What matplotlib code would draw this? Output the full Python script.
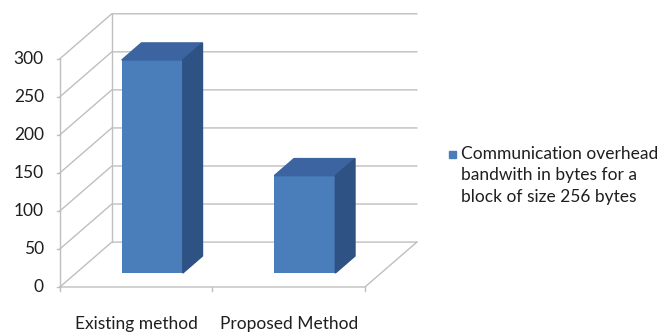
"""Excel-style 3D column chart: communication overhead, existing vs proposed."""

import matplotlib

matplotlib.use("Agg")
import matplotlib.pyplot as plt  # noqa: E402
from matplotlib.patches import Rectangle  # noqa: E402

categories = ["Existing method", "Proposed Method"]
values = [280, 128]
y_ticks = [0, 50, 100, 150, 200, 250, 300]
series_label = "Communication overhead\nbandwith in bytes for a\nblock of size 256 bytes"

FRONT = "#4A7EBB"
TOP = "#3B64A0"
SIDE = "#2F5284"
GRID = "#BFBFBF"
TEXT = "#1F1F1F"

# oblique depth of the plot box, in data units (x in categories, y in values)
DX, DY = 0.34, 59.0
BAR_W = 0.4
Z0, Z1 = 0.31, 0.69  # bar front/back as fraction of full depth

plt.rcParams["font.family"] = ["Lato", "DejaVu Sans"]

fig = plt.figure(figsize=(6.72, 3.36), dpi=100)
ax = fig.add_axes([0, 0, 1, 1])
ax.set_xlim(-0.893, 3.513)
ax.set_ylim(-64.4, 377.1)
ax.axis("off")

x0, x1 = -0.5, len(categories) - 0.5
ymax = y_ticks[-1]

# back wall + left wall gridlines
for v in y_ticks:
    ax.plot([x0, x0 + DX, x1 + DX], [v, v + DY, v + DY], color=GRID, lw=1, zorder=1)
ax.plot([x0 + DX, x0 + DX], [DY, ymax + DY], color=GRID, lw=1, zorder=1)
# floor outline
ax.plot([x0, x1, x1 + DX], [0, 0, DY], color=GRID, lw=1, zorder=1)

# y axis with ticks
ax.plot([x0, x0], [0, ymax], color=GRID, lw=1, zorder=2)
for v in y_ticks:
    ax.plot([x0 - 0.02, x0], [v, v], color=GRID, lw=1, zorder=2)
    ax.text(x0 - 0.105, v, str(v), ha="right", va="center", fontsize=12.5, color=TEXT)

# x ticks between categories
for i in range(len(categories) + 1):
    ax.plot([x0 + i, x0 + i], [0, -5], color=GRID, lw=1, zorder=2)
for i, name in enumerate(categories):
    ax.text(i, -49, name, ha="center", va="center", fontsize=12.5, color=TEXT)

# bars: front face via ax.bar, top and side faces from the same values
fx, fy = Z0 * DX, Z0 * DY
bx, by = Z1 * DX, Z1 * DY
xs = [i + fx for i in range(len(categories))]
ax.bar(xs, values, width=BAR_W, bottom=fy, color=FRONT, zorder=4)
for i, v in enumerate(values):
    left, right = i + fx - BAR_W / 2, i + fx + BAR_W / 2
    top = v + fy
    ax.fill(
        [left, right, right + (bx - fx), left + (bx - fx)],
        [top, top, top + (by - fy), top + (by - fy)],
        color=TOP,
        zorder=4,
    )
    ax.fill(
        [right, right + (bx - fx), right + (bx - fx), right],
        [fy, by, top + (by - fy), top],
        color=SIDE,
        zorder=4,
    )

# legend: marker aligned with the first line of the label
ax.add_patch(
    Rectangle((449 / 672, 1 - 158 / 336), 7 / 672, 7 / 336,
              transform=ax.transAxes, color=FRONT, clip_on=False)
)
ax.text(461 / 672, 1 - 146 / 336, series_label, transform=ax.transAxes,
        ha="left", va="top", fontsize=12.5, color=TEXT, linespacing=1.42)

fig.savefig("out.png", dpi=100)
